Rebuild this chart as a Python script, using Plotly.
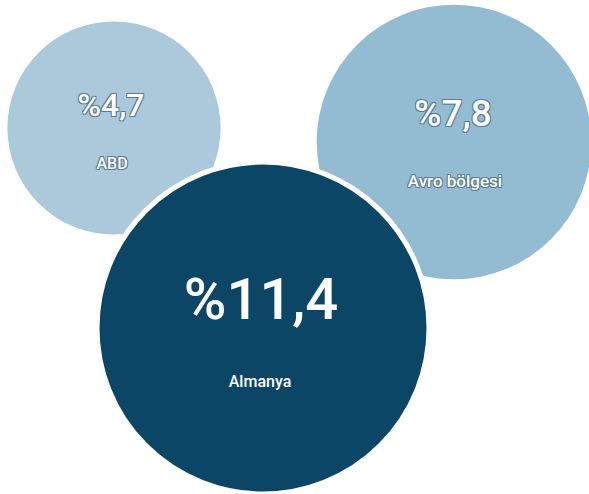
import plotly.graph_objects as go

# Data
categories = ["ABD", "Avro bölgesi", "Almanya"]
values = [4.7, 7.8, 11.4]
value_labels = ["%4,7", "%7,8", "%11,4"]

# Layout (pixel-space positions of bubble centres)
bubble_x = [114, 454, 263]
bubble_y = [128, 142, 328]
colors = ["#abc9da", "#93bcd2", "#0c4666"]
line_widths = [0, 0, 5]

max_radius = 166
sizeref = max(values) / 2 / max_radius ** 2

fig = go.Figure()
fig.add_trace(go.Scatter(
    x=bubble_x, y=bubble_y, mode="markers",
    marker=dict(size=values, sizemode="area", sizeref=sizeref,
                color=colors, opacity=1,
                line=dict(color="white", width=line_widths)),
    hoverinfo="skip", cliponaxis=False, showlegend=False,
))

oc = "#5a7d93"
outline = (f"1px 1px 0.5px {oc}, -1px -1px 0.5px {oc}, "
           f"1px -1px 0.5px {oc}, -1px 1px 0.5px {oc}")
val_dx = [-3, -1, -2]
val_dy = [-20, -25, -24]
val_sizes = [32, 37, 58]
lab_dx = [-2, 1, -3]
lab_dy = [37, 41, 55]
lab_sizes = [16, 17, 16]
shadows = [outline, outline, "none"]

for i in range(len(categories)):
    fig.add_trace(go.Scatter(
        x=[bubble_x[i] + val_dx[i]], y=[bubble_y[i] + val_dy[i]],
        mode="text", text=[value_labels[i]], textposition="middle center",
        textfont=dict(family="Roboto", size=val_sizes[i], color="white",
                      weight=500, shadow=shadows[i]),
        hoverinfo="skip", cliponaxis=False, showlegend=False,
    ))
    fig.add_trace(go.Scatter(
        x=[bubble_x[i] + lab_dx[i]], y=[bubble_y[i] + lab_dy[i]],
        mode="text", text=[categories[i]], textposition="middle center",
        textfont=dict(family="Roboto", size=lab_sizes[i], color="white",
                      weight=500, shadow=shadows[i]),
        hoverinfo="skip", cliponaxis=False, showlegend=False,
    ))

fig.update_layout(
    width=589, height=494, autosize=False,
    margin=dict(l=0, r=0, t=0, b=0),
    paper_bgcolor="white", plot_bgcolor="white",
    xaxis=dict(range=[0, 589], visible=False, fixedrange=True),
    yaxis=dict(range=[494, 0], visible=False, fixedrange=True),
)

fig.write_html("out.html", config={"displayModeBar": False},
               post_script="document.body.style.margin='0';")
